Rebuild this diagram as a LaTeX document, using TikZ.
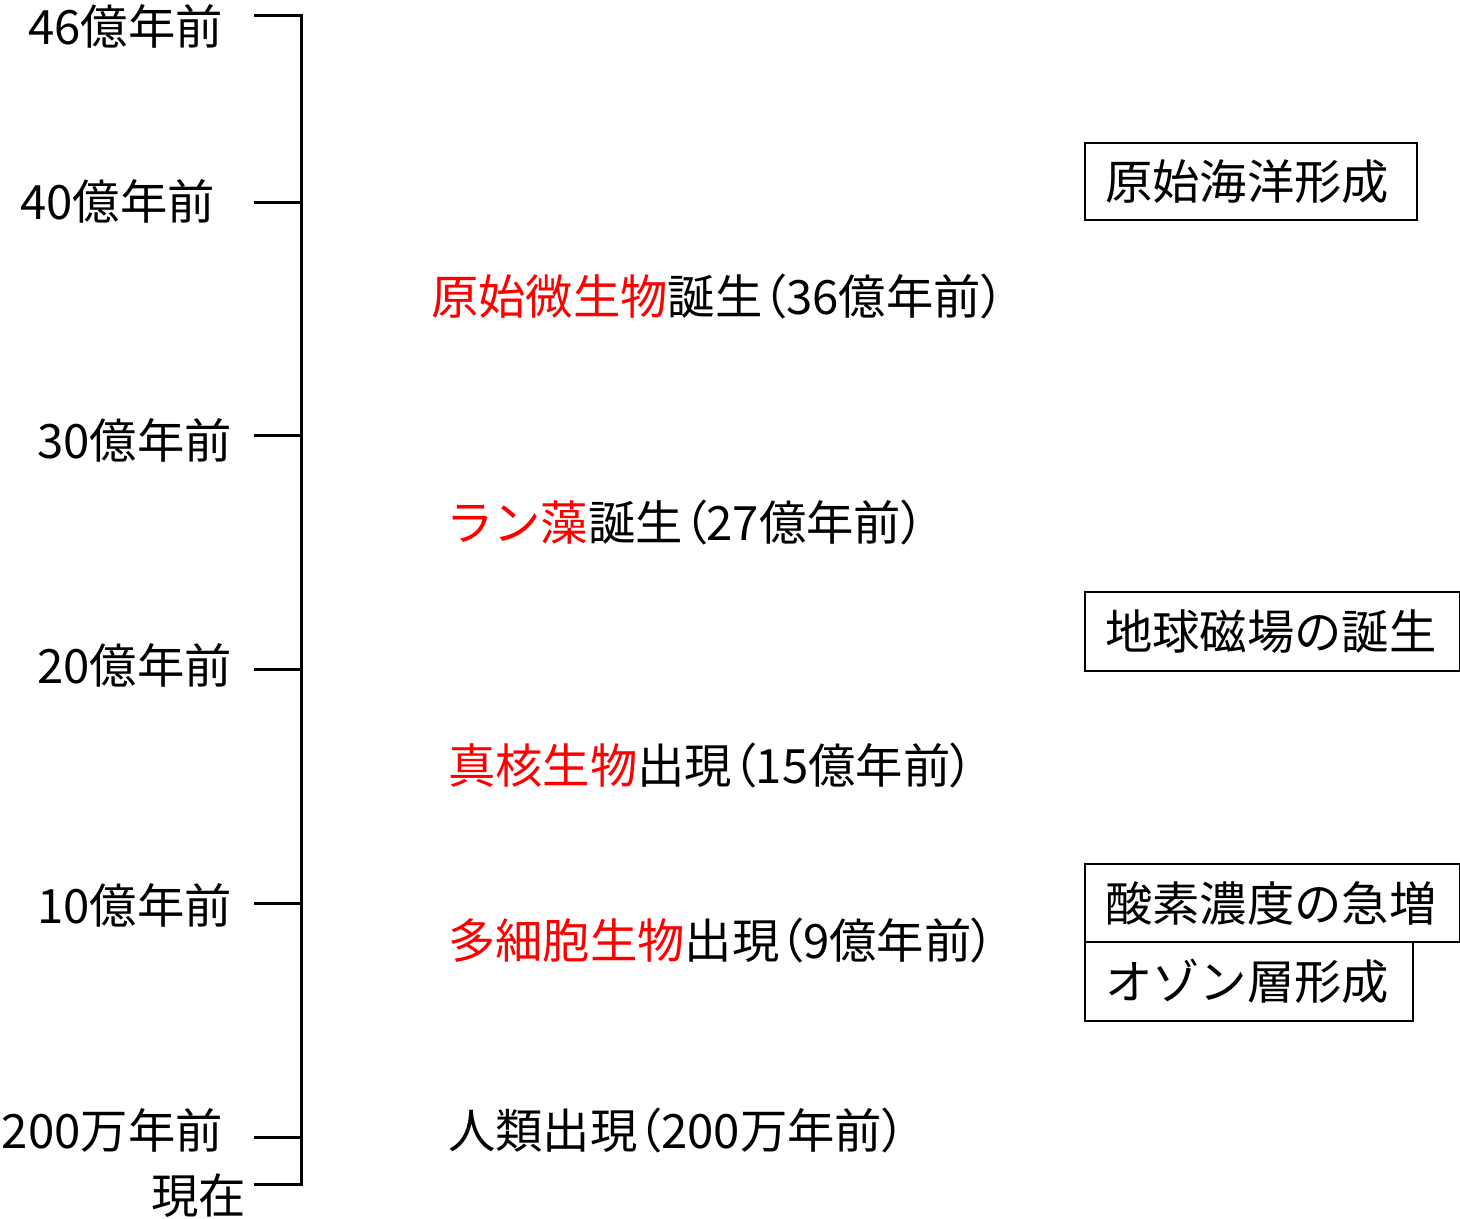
\documentclass[tikz,border=0pt]{standalone}
\usepackage{fontspec}
\setmainfont{Noto Sans CJK JP}
\newfontfamily\pfont{Noto Sans CJK JP}[RawFeature=+palt]
\newcommand{\lpar}{{\pfont （}}
\newcommand{\rpar}{{\pfont ）}}
\definecolor{hl}{RGB}{255,0,0}
\begin{document}
\begin{tikzpicture}[x=0.75pt,y=-0.75pt,
  every node/.style={inner sep=0pt, font=\fontsize{35.5pt}{40pt}\selectfont},
  axisline/.style={line width=2.25pt},
  lab/.style={anchor=east},
  ev/.style={anchor=west},
  evbox/.style={draw, line width=1.5pt, anchor=west, inner xsep=15pt, inner ysep=0pt, align=left}
]
\useasboundingbox (0,0) rectangle (1460,1218);
% axis coordinates
\coordinate (a46) at (301,15);   \coordinate (t46) at (254,15);
\coordinate (a40) at (301,202);  \coordinate (t40) at (254,202);
\coordinate (a30) at (301,435);  \coordinate (t30) at (254,435);
\coordinate (a20) at (301,669);  \coordinate (t20) at (254,669);
\coordinate (a10) at (301,903);  \coordinate (t10) at (254,903);
\coordinate (a200) at (301,1137); \coordinate (t200) at (254,1137);
\coordinate (anow) at (301,1184); \coordinate (tnow) at (254,1184);
\draw[axisline] (t46) -- (a46) -- (anow) -- (tnow);
\draw[axisline] (t40) -- (a40);
\draw[axisline] (t30) -- (a30);
\draw[axisline] (t20) -- (a20);
\draw[axisline] (t10) -- (a10);
\draw[axisline] (t200) -- (a200);
% axis labels
\node[lab] (l46) at (223,26) {46億年前};
\node[lab] (l40) at (215,201) {40億年前};
\node[lab] (l30) at (232,440) {30億年前};
\node[lab] (l20) at (232,665) {20億年前};
\node[lab] (l10) at (232,905) {10億年前};
\node[lab] (l200) at (223,1130) {200万年前};
\node[lab] (lnow) at (246,1196) {現在};
% events
\node[ev] (e36) at (431,297) {\textcolor{hl}{原始微生物}誕生\lpar 36億年前\rpar};
\node[ev] (e27) at (446,523) {\textcolor{hl}{ラン藻}誕生\lpar 27億年前\rpar};
\node[ev] (e15) at (448,765) {\textcolor{hl}{真核生物}出現\lpar 15億年前\rpar};
\node[ev] (e9) at (448,940) {\textcolor{hl}{多細胞生物}出現\lpar 9億年前\rpar};
\node[ev] (eh) at (448,1130) {人類出現\lpar 200万年前\rpar};
% boxes
\node[evbox, text width=219pt, minimum height=57.75pt] (b1) at (1084,181.5) {原始海洋形成};
\node[evbox, text width=251.25pt, minimum height=59.25pt] (b2) at (1084,631.5) {地球磁場の誕生};
\node[evbox, text width=251.25pt, minimum height=58.5pt] (b3) at (1084,903) {酸素濃度の急増};
\node[evbox, text width=216pt, minimum height=59.25pt] (b4) at (1084,981.5) {オゾン層形成};
\end{tikzpicture}
\end{document}
